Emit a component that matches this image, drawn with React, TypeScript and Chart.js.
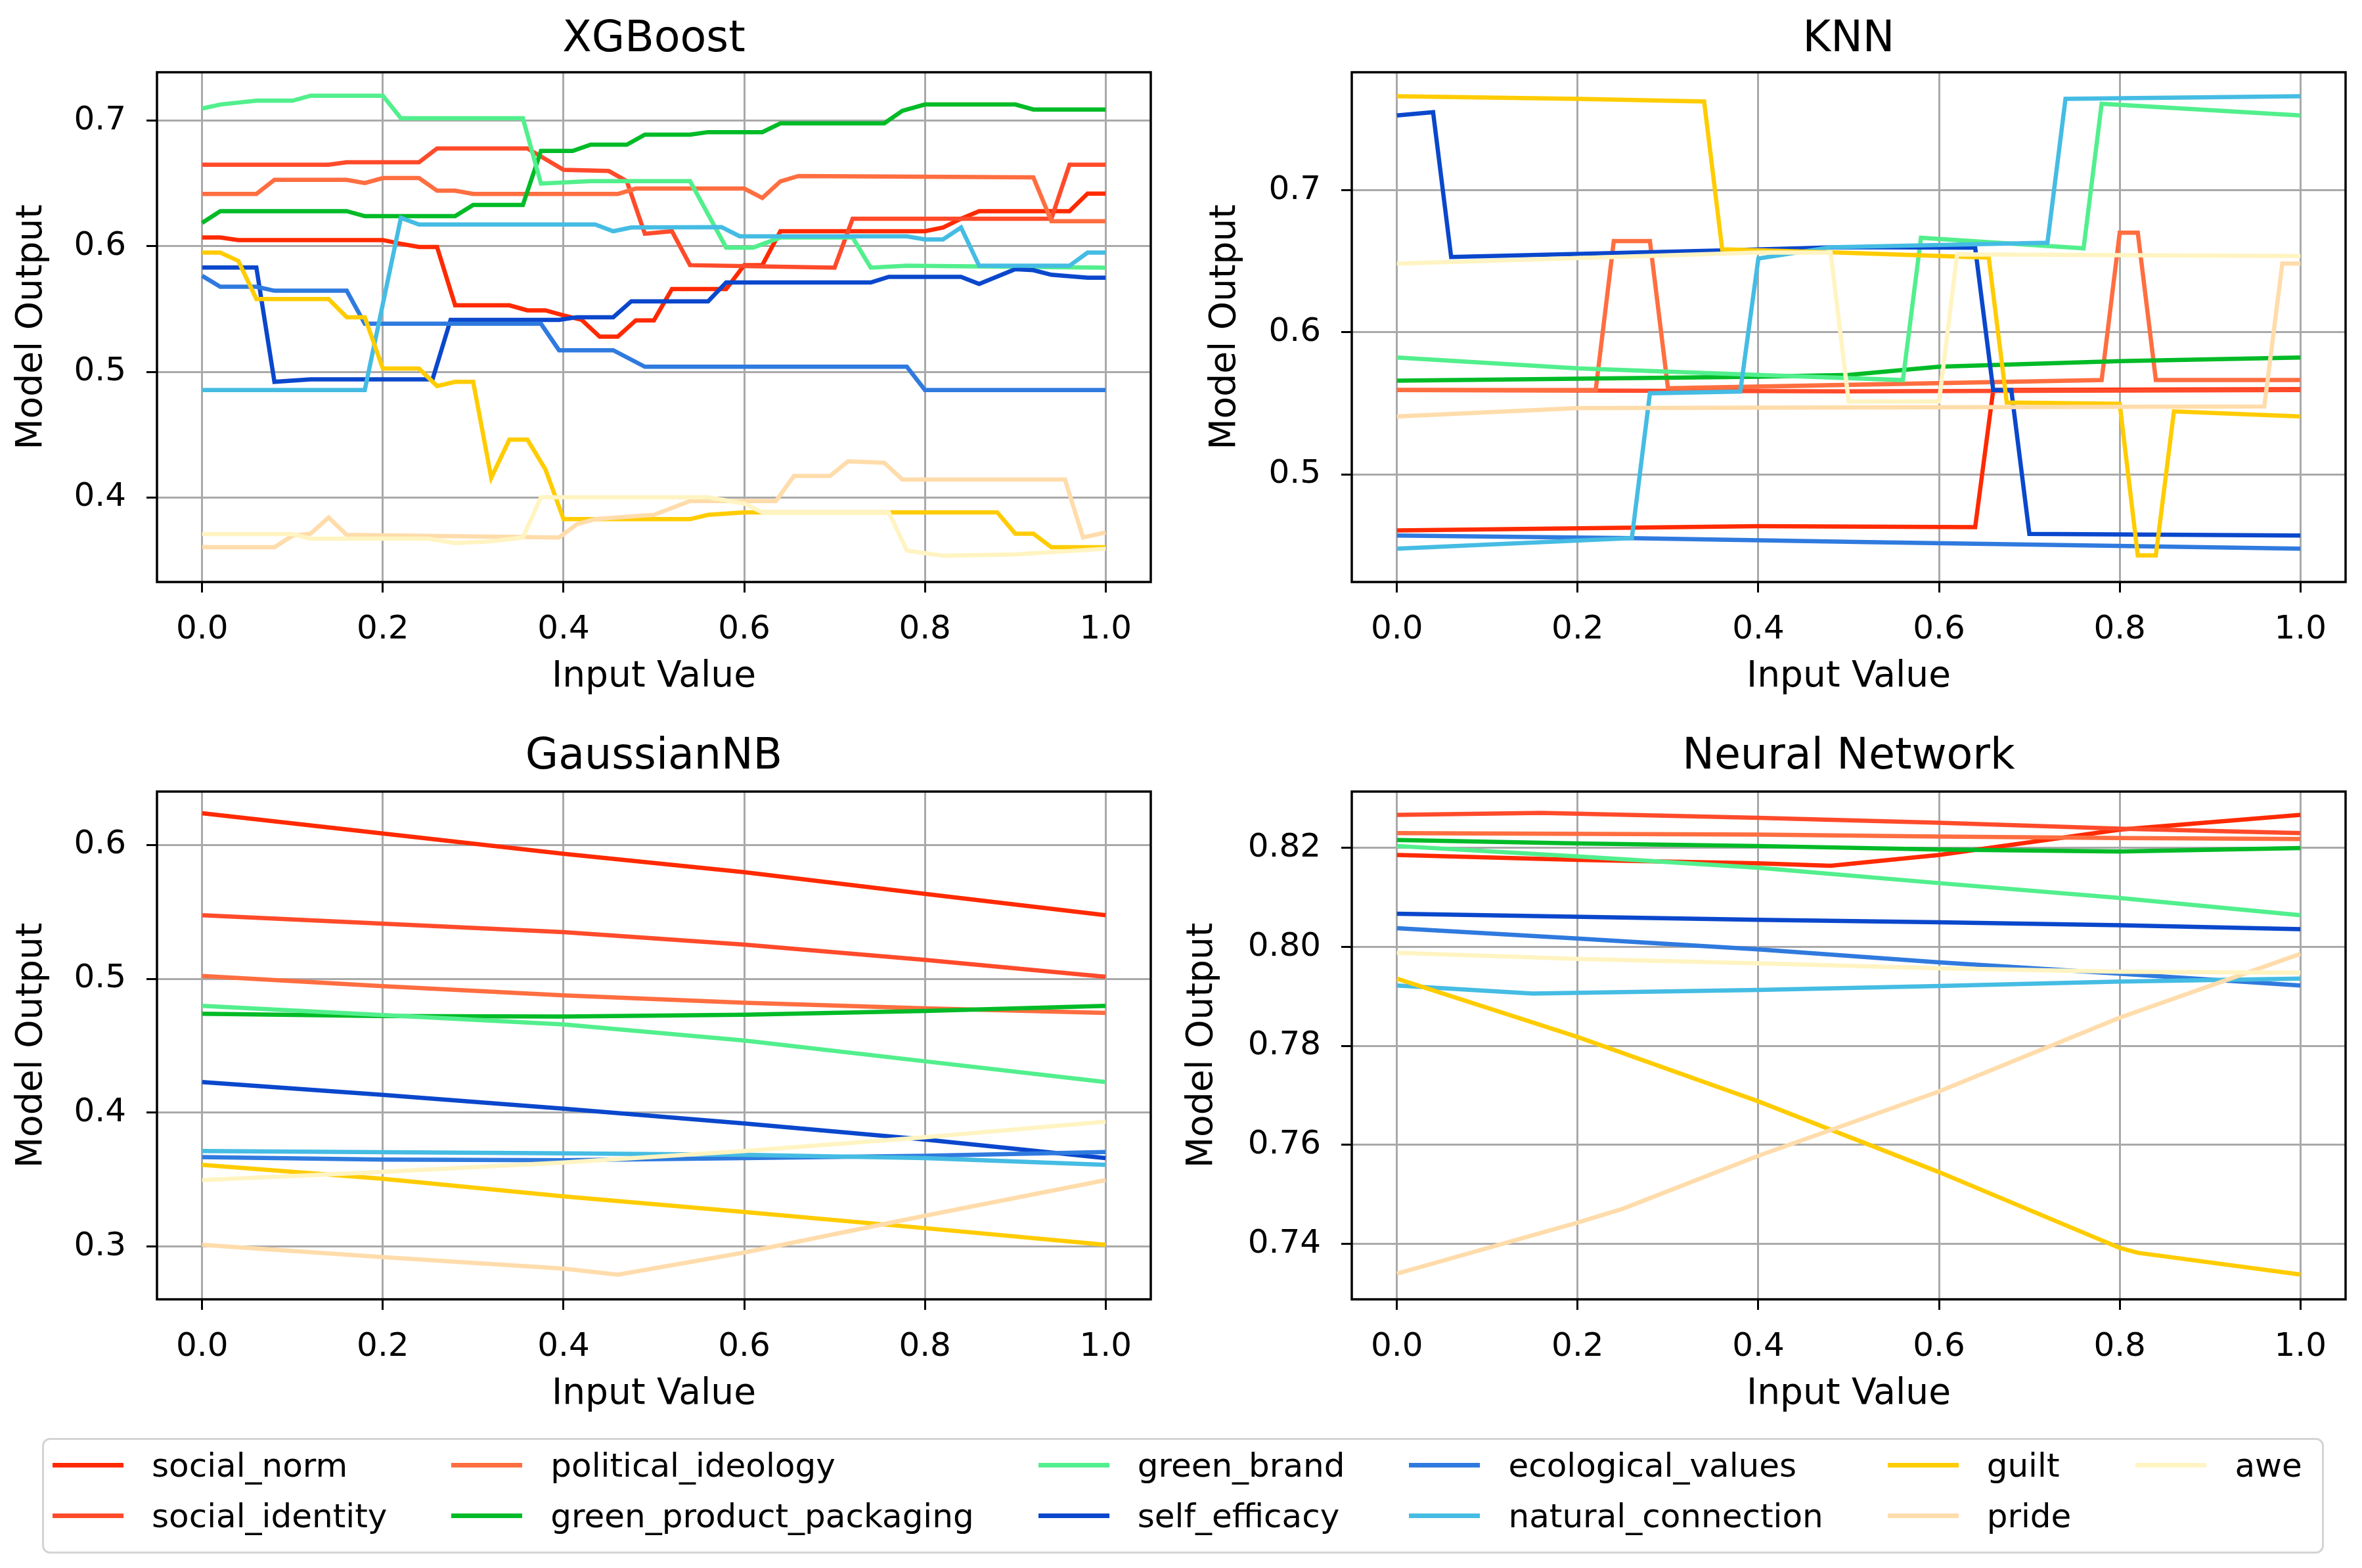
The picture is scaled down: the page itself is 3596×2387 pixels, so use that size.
import { useEffect, useRef } from "react"
import Chart from "chart.js/auto"

type Pt = [number, number]

const FEATURES = [
  "social_norm",
  "social_identity",
  "political_ideology",
  "green_product_packaging",
  "green_brand",
  "self_efficacy",
  "ecological_values",
  "natural_connection",
  "guilt",
  "pride",
  "awe",
]
const COLORS = [
  "#ff2a00",
  "#ff4b2b",
  "#ff6e40",
  "#00bb27",
  "#52ef8d",
  "#0a47cc",
  "#2f7ade",
  "#45bce3",
  "#ffcc00",
  "#ffdcab",
  "#fff4c2",
]
const X_TICKS = [0, 0.2, 0.4, 0.6, 0.8, 1.0]

// ---- XGBoost ----
const xgbSocialNorm: Pt[] = [[0, 0.607], [0.02, 0.607], [0.04, 0.605], [0.2, 0.605], [0.22, 0.602], [0.24, 0.5995], [0.26, 0.5995], [0.28, 0.553], [0.34, 0.553], [0.36, 0.549], [0.38, 0.549], [0.4, 0.545], [0.42, 0.5414], [0.44, 0.528], [0.46, 0.528], [0.48, 0.541], [0.5, 0.541], [0.52, 0.566], [0.58, 0.566], [0.6, 0.585], [0.62, 0.585], [0.64, 0.612], [0.8, 0.612], [0.82, 0.615], [0.84, 0.622], [0.86, 0.628], [0.96, 0.628], [0.98, 0.642], [1.0, 0.642]]
const xgbSocialIdentity: Pt[] = [[0, 0.665], [0.14, 0.665], [0.16, 0.667], [0.24, 0.667], [0.26, 0.678], [0.36, 0.678], [0.4, 0.661], [0.45, 0.66], [0.47, 0.652], [0.49, 0.61], [0.52, 0.612], [0.54, 0.585], [0.7, 0.583], [0.72, 0.622], [0.94, 0.622], [0.96, 0.665], [1.0, 0.665]]
const xgbPolitical: Pt[] = [[0, 0.6417], [0.06, 0.6417], [0.08, 0.653], [0.16, 0.653], [0.18, 0.6504], [0.2, 0.6544], [0.24, 0.6544], [0.26, 0.6443], [0.28, 0.6443], [0.3, 0.6417], [0.46, 0.6417], [0.48, 0.646], [0.6, 0.646], [0.62, 0.6385], [0.64, 0.6517], [0.66, 0.656], [0.92, 0.655], [0.94, 0.62], [1.0, 0.62]]
const xgbPackaging: Pt[] = [[0, 0.6187], [0.02, 0.628], [0.16, 0.628], [0.18, 0.624], [0.28, 0.624], [0.3, 0.633], [0.355, 0.633], [0.375, 0.676], [0.41, 0.676], [0.43, 0.681], [0.47, 0.681], [0.49, 0.689], [0.54, 0.689], [0.56, 0.691], [0.62, 0.691], [0.64, 0.698], [0.755, 0.698], [0.775, 0.708], [0.8, 0.713], [0.9, 0.713], [0.92, 0.709], [1.0, 0.709]]
const xgbGreenBrand: Pt[] = [[0, 0.7098], [0.02, 0.713], [0.06, 0.716], [0.1, 0.716], [0.12, 0.72], [0.2, 0.72], [0.22, 0.702], [0.355, 0.702], [0.375, 0.65], [0.43, 0.652], [0.54, 0.652], [0.58, 0.599], [0.61, 0.599], [0.64, 0.607], [0.72, 0.607], [0.74, 0.583], [0.78, 0.5845], [1.0, 0.583]]
const xgbSelfEfficacy: Pt[] = [[0, 0.5831], [0.06, 0.5831], [0.08, 0.492], [0.12, 0.494], [0.255, 0.494], [0.275, 0.5414], [0.395, 0.5414], [0.415, 0.5435], [0.455, 0.5435], [0.475, 0.5562], [0.56, 0.5562], [0.58, 0.5712], [0.74, 0.5712], [0.76, 0.5757], [0.84, 0.5757], [0.86, 0.57], [0.9, 0.5818], [0.92, 0.581], [0.94, 0.5773], [0.98, 0.575], [1.0, 0.575]]
const xgbEcological: Pt[] = [[0, 0.5765], [0.02, 0.5678], [0.06, 0.5678], [0.08, 0.5646], [0.16, 0.5646], [0.18, 0.5383], [0.375, 0.5383], [0.395, 0.5172], [0.455, 0.5172], [0.49, 0.504], [0.78, 0.504], [0.8, 0.4855], [1.0, 0.4855]]
const xgbNatural: Pt[] = [[0, 0.4855], [0.18, 0.4855], [0.22, 0.6227], [0.24, 0.6174], [0.435, 0.6174], [0.455, 0.612], [0.475, 0.615], [0.575, 0.6153], [0.595, 0.608], [0.78, 0.608], [0.8, 0.6055], [0.82, 0.6055], [0.84, 0.615], [0.86, 0.5845], [0.96, 0.5845], [0.98, 0.595], [1.0, 0.595]]
const xgbGuilt: Pt[] = [[0, 0.595], [0.02, 0.595], [0.04, 0.5884], [0.06, 0.558], [0.14, 0.558], [0.16, 0.5435], [0.18, 0.5435], [0.2, 0.5026], [0.24, 0.5026], [0.26, 0.4887], [0.28, 0.492], [0.3, 0.492], [0.32, 0.4156], [0.34, 0.4459], [0.36, 0.4459], [0.38, 0.4222], [0.4, 0.3826], [0.54, 0.3826], [0.56, 0.386], [0.6, 0.388], [0.88, 0.388], [0.9, 0.371], [0.92, 0.371], [0.94, 0.3602], [1.0, 0.3602]]
const xgbPride: Pt[] = [[0, 0.3602], [0.08, 0.3602], [0.1, 0.3694], [0.12, 0.371], [0.14, 0.3839], [0.16, 0.37], [0.395, 0.368], [0.415, 0.3786], [0.435, 0.3826], [0.5, 0.386], [0.54, 0.397], [0.635, 0.397], [0.655, 0.417], [0.695, 0.417], [0.715, 0.4287], [0.755, 0.4275], [0.775, 0.4142], [0.955, 0.4142], [0.975, 0.368], [1.0, 0.372]]
const xgbAwe: Pt[] = [[0, 0.3707], [0.1, 0.3707], [0.12, 0.367], [0.25, 0.367], [0.28, 0.3635], [0.32, 0.365], [0.355, 0.368], [0.375, 0.4], [0.56, 0.4], [0.6, 0.395], [0.62, 0.388], [0.76, 0.388], [0.78, 0.3575], [0.82, 0.3535], [0.9, 0.3545], [1.0, 0.359]]

// ---- KNN ----
const knnSocialNorm: Pt[] = [[0, 0.4604], [0.4, 0.4634], [0.64, 0.4627], [0.66, 0.5594], [1.0, 0.56]]
const knnSocialIdentity: Pt[] = [[0, 0.5594], [0.5, 0.5585], [1.0, 0.5594]]
const knnPolitical: Pt[] = [[0, 0.5594], [0.22, 0.5594], [0.24, 0.6643], [0.28, 0.6643], [0.3, 0.5606], [0.78, 0.5664], [0.8, 0.6702], [0.82, 0.6702], [0.84, 0.5664], [1.0, 0.5664]]
const knnPackaging: Pt[] = [[0, 0.566], [0.4, 0.5688], [0.5, 0.57], [0.6, 0.5758], [0.8, 0.5797], [1.0, 0.5823]]
const knnGreenBrand: Pt[] = [[0, 0.5823], [0.2, 0.5746], [0.4, 0.57], [0.56, 0.5664], [0.58, 0.6667], [0.76, 0.6592], [0.78, 0.7611], [1.0, 0.7529]]
const knnSelfEfficacy: Pt[] = [[0, 0.7529], [0.04, 0.7552], [0.06, 0.6531], [0.36, 0.6578], [0.49, 0.6601], [0.64, 0.6597], [0.66, 0.5594], [0.68, 0.5594], [0.7, 0.458], [1.0, 0.4569]]
const knnEcological: Pt[] = [[0, 0.4569], [0.26, 0.455], [0.52, 0.4522], [1.0, 0.4476]]
const knnNatural: Pt[] = [[0, 0.4476], [0.26, 0.455], [0.28, 0.5571], [0.38, 0.5583], [0.4, 0.652], [0.48, 0.66], [0.72, 0.6632], [0.74, 0.7646], [1.0, 0.7664]]
const knnGuilt: Pt[] = [[0, 0.7664], [0.2, 0.7646], [0.34, 0.7627], [0.36, 0.6585], [0.49, 0.6562], [0.655, 0.6527], [0.675, 0.5506], [0.8, 0.5497], [0.82, 0.4429], [0.84, 0.4429], [0.86, 0.5443], [1.0, 0.5408]]
const knnPride: Pt[] = [[0, 0.5408], [0.2, 0.5466], [0.96, 0.5478], [0.98, 0.6485], [1.0, 0.6485]]
const knnAwe: Pt[] = [[0, 0.6485], [0.4, 0.6562], [0.48, 0.6562], [0.5, 0.5513], [0.6, 0.5513], [0.62, 0.655], [1.0, 0.6538]]

// ---- GaussianNB ----
const gnbSocialNorm: Pt[] = [[0, 0.6238], [0.4, 0.5935], [0.6, 0.5797], [0.8, 0.5635], [1.0, 0.5476]]
const gnbSocialIdentity: Pt[] = [[0, 0.5476], [0.4, 0.5349], [0.6, 0.5256], [0.8, 0.5142], [1.0, 0.5015]]
const gnbPolitical: Pt[] = [[0, 0.5022], [0.2, 0.4946], [0.4, 0.4877], [0.6, 0.4822], [0.8, 0.478], [1.0, 0.4746]]
const gnbPackaging: Pt[] = [[0, 0.4739], [0.2, 0.4722], [0.4, 0.4719], [0.6, 0.4732], [0.8, 0.476], [1.0, 0.4798]]
const gnbGreenBrand: Pt[] = [[0, 0.4798], [0.2, 0.4729], [0.4, 0.466], [0.6, 0.4539], [0.8, 0.4384], [1.0, 0.4229]]
const gnbSelfEfficacy: Pt[] = [[0, 0.4229], [0.2, 0.4133], [0.4, 0.403], [0.6, 0.392], [0.8, 0.3799], [1.0, 0.3661]]
const gnbEcological: Pt[] = [[0, 0.3668], [0.2, 0.365], [0.4, 0.3644], [0.6, 0.3661], [0.8, 0.3678], [1.0, 0.3706]]
const gnbNatural: Pt[] = [[0, 0.3713], [0.4, 0.3696], [0.6, 0.3685], [0.8, 0.3661], [1.0, 0.361]]
const gnbGuilt: Pt[] = [[0, 0.361], [0.2, 0.3506], [0.4, 0.3375], [0.6, 0.3258], [0.8, 0.3137], [1.0, 0.3013]]
const gnbPride: Pt[] = [[0, 0.3013], [0.2, 0.292], [0.4, 0.2834], [0.46, 0.2789], [0.6, 0.2955], [0.8, 0.323], [1.0, 0.3496]]
const gnbAwe: Pt[] = [[0, 0.3496], [0.2, 0.3558], [0.4, 0.3627], [0.6, 0.3713], [0.8, 0.3816], [1.0, 0.3933]]

// ---- Neural Network ----
const nnSocialNorm: Pt[] = [[0, 0.8186], [0.2, 0.8176], [0.4, 0.8169], [0.48, 0.8164], [0.6, 0.8186], [0.8, 0.8237], [1.0, 0.8267]]
const nnSocialIdentity: Pt[] = [[0, 0.8267], [0.16, 0.8271], [0.4, 0.8261], [0.6, 0.8251], [0.8, 0.8239], [1.0, 0.823]]
const nnPolitical: Pt[] = [[0, 0.823], [0.4, 0.8227], [0.6, 0.8223], [0.8, 0.822], [1.0, 0.8218]]
const nnPackaging: Pt[] = [[0, 0.8216], [0.2, 0.8209], [0.4, 0.8204], [0.6, 0.8197], [0.8, 0.8193], [1.0, 0.82]]
const nnGreenBrand: Pt[] = [[0, 0.8204], [0.2, 0.8183], [0.4, 0.816], [0.6, 0.8129], [0.8, 0.8099], [1.0, 0.8064]]
const nnSelfEfficacy: Pt[] = [[0, 0.8067], [0.4, 0.8055], [0.6, 0.805], [0.8, 0.8044], [1.0, 0.8036]]
const nnEcological: Pt[] = [[0, 0.8038], [0.2, 0.8017], [0.4, 0.7995], [0.6, 0.7969], [0.8, 0.7946], [1.0, 0.7922]]
const nnNatural: Pt[] = [[0, 0.7922], [0.15, 0.7906], [0.4, 0.7913], [0.6, 0.7921], [0.8, 0.793], [1.0, 0.7936]]
const nnGuilt: Pt[] = [[0, 0.7936], [0.2, 0.7818], [0.4, 0.7688], [0.6, 0.7545], [0.8, 0.7392], [0.82, 0.7382], [1.0, 0.7338]]
const nnPride: Pt[] = [[0, 0.734], [0.2, 0.7443], [0.25, 0.7471], [0.4, 0.7578], [0.6, 0.7708], [0.8, 0.7857], [1.0, 0.7986]]
const nnAwe: Pt[] = [[0, 0.7988], [0.2, 0.7976], [0.4, 0.7967], [0.6, 0.7957], [0.8, 0.795], [1.0, 0.7948]]

const XGB_LINES = [xgbSocialNorm, xgbSocialIdentity, xgbPolitical, xgbPackaging, xgbGreenBrand, xgbSelfEfficacy, xgbEcological, xgbNatural, xgbGuilt, xgbPride, xgbAwe]
const KNN_LINES = [knnSocialNorm, knnSocialIdentity, knnPolitical, knnPackaging, knnGreenBrand, knnSelfEfficacy, knnEcological, knnNatural, knnGuilt, knnPride, knnAwe]
const GNB_LINES = [gnbSocialNorm, gnbSocialIdentity, gnbPolitical, gnbPackaging, gnbGreenBrand, gnbSelfEfficacy, gnbEcological, gnbNatural, gnbGuilt, gnbPride, gnbAwe]
const NN_LINES = [nnSocialNorm, nnSocialIdentity, nnPolitical, nnPackaging, nnGreenBrand, nnSelfEfficacy, nnEcological, nnNatural, nnGuilt, nnPride, nnAwe]

const XGB_YTICKS = [0.4, 0.5, 0.6, 0.7]
const KNN_YTICKS = [0.5, 0.6, 0.7]
const GNB_YTICKS = [0.3, 0.4, 0.5, 0.6]
const NN_YTICKS = [0.74, 0.76, 0.78, 0.8, 0.82]

const FONT = '"DejaVu Sans", sans-serif'

interface PanelProps {
  title: string
  lines: Pt[][]
  yTicks: number[]
  yMin: number
  yMax: number
  digits: number
  left: number
  top: number
  width: number
  height: number
  plotLeft: number // absolute px
  plotTop: number
  plotRight: number
  plotBottom: number
  titleGap: number
  xTitleCenter: number // absolute y of the "Input Value" middle
  yTitleCenter: number // absolute x of the "Model Output" middle
}

// draws the panel title above the plot area and the black box around it
const panelDecor = {
  id: "panelDecor",
  afterDraw(chart: any, _args: any, opts: any) {
    const { ctx, chartArea: a } = chart
    ctx.save()
    ctx.strokeStyle = "#000"
    ctx.lineWidth = 3.5
    ctx.strokeRect(a.left, a.top, a.right - a.left, a.bottom - a.top)
    ctx.font = `65px ${FONT}`
    ctx.fillStyle = "#000"
    ctx.textAlign = "center"
    ctx.textBaseline = "alphabetic"
    ctx.fillText(opts.text, (a.left + a.right) / 2, a.top - opts.gap)
    ctx.restore()
  },
}

function Panel(p: PanelProps) {
  const canvasRef = useRef<HTMLCanvasElement>(null)
  const chartRef = useRef<Chart | null>(null)

  useEffect(() => {
    if (!canvasRef.current) return
    if (chartRef.current) chartRef.current.destroy()

    const yAxisWidth = p.plotLeft - p.left
    const xAxisHeight = p.top + p.height - p.plotBottom
    const padRight = p.left + p.width - p.plotRight
    const padTop = p.plotTop - p.top
    const labelLine = 55 * 1.2

    chartRef.current = new Chart(canvasRef.current, {
      type: "line",
      data: {
        datasets: p.lines.map((pts, i) => ({
          label: FEATURES[i],
          data: pts.map(([x, y]) => ({ x, y })),
          borderColor: COLORS[i],
          backgroundColor: COLORS[i],
          borderWidth: 6.5,
          pointRadius: 0,
          fill: false,
          tension: 0,
          order: -i,
        })),
      },
      plugins: [panelDecor],
      options: {
        responsive: false,
        maintainAspectRatio: false,
        animation: false,
        devicePixelRatio: 1,
        layout: { autoPadding: false, padding: { left: 0, top: padTop, right: padRight, bottom: 0 } },
        plugins: {
          legend: { display: false },
          tooltip: { enabled: false },
          title: { display: false },
          // @ts-ignore
          panelDecor: { text: p.title, gap: p.titleGap },
        },
        scales: {
          x: {
            type: "linear",
            min: -0.05,
            max: 1.05,
            afterBuildTicks: (s: any) => {
              s.ticks = X_TICKS.map((v) => ({ value: v }))
            },
            afterFit: (s: any) => {
              s.height = xAxisHeight
            },
            border: { display: false },
            grid: { color: "#a9a9a9", lineWidth: 3, drawTicks: true, tickLength: 16, tickColor: "#000", tickWidth: 3 },
            ticks: {
              autoSkip: false,
              maxRotation: 0,
              padding: 27,
              color: "#000",
              font: { family: FONT, size: 50 },
              callback: (v: any) => Number(v).toFixed(1),
            },
            title: {
              display: true,
              text: "Input Value",
              color: "#000",
              font: { family: FONT, size: 55 },
              padding: { top: 0, bottom: p.top + p.height - p.xTitleCenter - labelLine / 2 },
            },
          },
          y: {
            type: "linear",
            min: p.yMin,
            max: p.yMax,
            afterBuildTicks: (s: any) => {
              s.ticks = p.yTicks.map((v) => ({ value: v }))
            },
            afterFit: (s: any) => {
              s.width = yAxisWidth
            },
            border: { display: false },
            grid: { color: "#a9a9a9", lineWidth: 3, drawTicks: true, tickLength: 16, tickColor: "#000", tickWidth: 3 },
            ticks: {
              autoSkip: false,
              padding: 31,
              color: "#000",
              font: { family: FONT, size: 50 },
              callback: (v: any) => Number(v).toFixed(p.digits),
            },
            title: {
              display: true,
              text: "Model Output",
              color: "#000",
              font: { family: FONT, size: 55 },
              padding: { top: p.yTitleCenter - p.left - labelLine / 2, bottom: 0 },
            },
          },
        },
      },
    } as any)

    return () => {
      if (chartRef.current) {
        chartRef.current.destroy()
        chartRef.current = null
      }
    }
  }, [])

  return (
    <div style={{ position: "absolute", left: p.left, top: p.top, width: p.width, height: p.height }}>
      <canvas ref={canvasRef} width={p.width} height={p.height} style={{ width: p.width, height: p.height }} />
    </div>
  )
}

function Legend() {
  return (
    <div
      style={{
        position: "absolute",
        left: 64,
        top: 2189,
        width: 3474,
        height: 176,
        boxSizing: "border-box",
        border: "3px solid #d4d4d4",
        borderRadius: 12,
        background: "rgba(255,255,255,0.9)",
        paddingLeft: 13,
        display: "grid",
        gridTemplateRows: "77px 77px",
        gridAutoFlow: "column",
        gridAutoColumns: "max-content",
        columnGap: 98,
        fontFamily: FONT,
        fontSize: 50,
        color: "#000",
      }}
    >
      {FEATURES.map((f, i) => (
        <div key={f} style={{ display: "flex", alignItems: "center" }}>
          <span style={{ width: 108, height: 7, background: COLORS[i], marginRight: 43, flexShrink: 0 }} />
          <span style={{ lineHeight: 1, whiteSpace: "nowrap" }}>{f}</span>
        </div>
      ))}
    </div>
  )
}

export default function App() {
  return (
    <div style={{ position: "absolute", left: 0, top: 0, width: 3596, height: 2387, background: "#fff", overflow: "hidden" }}>
      <Panel title="XGBoost" lines={XGB_LINES} yTicks={XGB_YTICKS} yMin={0.3325} yMax={0.7387} digits={1}
        left={0} top={0} width={1800} height={1100}
        plotLeft={239} plotTop={110} plotRight={1752} plotBottom={886}
        titleGap={32} xTitleCenter={1031} yTitleCenter={49} />
      <Panel title="KNN" lines={KNN_LINES} yTicks={KNN_YTICKS} yMin={0.4241} yMax={0.7833} digits={1}
        left={1819} top={0} width={1777} height={1100}
        plotLeft={2058} plotTop={110} plotRight={3571} plotBottom={886}
        titleGap={32} xTitleCenter={1031} yTitleCenter={1866} />
      <Panel title="GaussianNB" lines={GNB_LINES} yTicks={GNB_YTICKS} yMin={0.2605} yMax={0.64} digits={1}
        left={0} top={1095} width={1800} height={1100}
        plotLeft={239} plotTop={1205} plotRight={1752} plotBottom={1978}
        titleGap={35} xTitleCenter={2123} yTitleCenter={49} />
      <Panel title="Neural Network" lines={NN_LINES} yTicks={NN_YTICKS} yMin={0.7288} yMax={0.8314} digits={2}
        left={1790} top={1095} width={1806} height={1100}
        plotLeft={2058} plotTop={1205} plotRight={3571} plotBottom={1978}
        titleGap={35} xTitleCenter={2123} yTitleCenter={1831} />
      <Legend />
    </div>
  )
}
